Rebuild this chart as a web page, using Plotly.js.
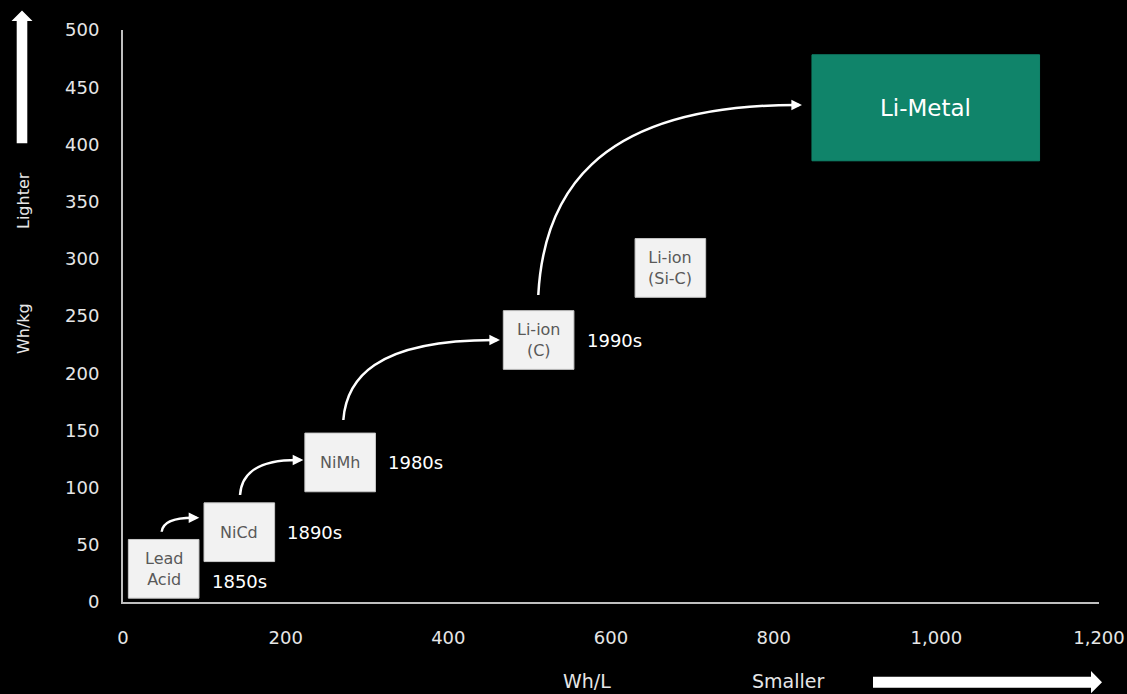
<!DOCTYPE html>
<html>
<head>
<meta charset="utf-8">
<script src="https://cdn.plot.ly/plotly-3.0.1.min.js"></script>
<style>
  html, body { margin: 0; padding: 0; background: #000; }
  #chart { width: 1127px; height: 694px; }
</style>
</head>
<body>
<div id="chart"></div>
<script>
// ---- Data ----
const techNames = ['Lead<br>Acid', 'NiCd', 'NiMh', 'Li-ion<br>(C)', 'Li-ion<br>(Si-C)', 'Li-Metal'];
const whPerL    = [50, 143, 267, 511, 673, 987];     // volumetric energy density (box centre)
const whPerKg   = [29, 61, 122, 229, 292, 432];      // gravimetric energy density (box centre)
const decades   = ['1850s', '1890s', '1980s', '1990s', '', ''];

// progression arrows (start point -> arrow tip), in Wh/L and Wh/kg
const arrowFromL  = [47.6, 143.9, 270.9, 510.6];
const arrowFromKg = [61.4, 93.5, 159.1, 268.4];
const arrowToL    = [93.8, 221.7, 463.5, 834.8];
const arrowToKg   = [73.7, 124.1, 229.0, 434.4];

const xTicks = [0, 200, 400, 600, 800, 1000, 1200];
const yTicks = [0, 50, 100, 150, 200, 250, 300, 350, 400, 450, 500];

// ---- Styling / layout constants ----
const FONT = 'DejaVu Sans';
const W = 1127, H = 694;
const M = {l: 123, r: 28, t: 30, b: 92};
const PW = W - M.l - M.r, PH = H - M.t - M.b;
const fx = p => (p - M.l) / PW;       // pixel -> paper x
const fy = p => (H - M.b - p) / PH;   // pixel -> paper y
const XPX = PW / 1200;                // px per Wh/L unit

const shapes = [];
const annotations = [];

// technology boxes
techNames.forEach((name, i) => {
  const isMetal = name === 'Li-Metal';
  const hw = isMetal ? 113.8 : 35.3, hh = isMetal ? 53 : 29.35;
  shapes.push({
    type: 'rect', xref: 'x', yref: 'y',
    xsizemode: 'pixel', ysizemode: 'pixel',
    xanchor: whPerL[i], yanchor: whPerKg[i],
    x0: -hw, x1: hw, y0: -hh, y1: hh,
    fillcolor: isMetal ? '#10846a' : '#f2f2f2',
    line: {color: isMetal ? '#10846a' : '#c8c8c8', width: 1},
    layer: 'above'
  });
  annotations.push({
    x: whPerL[i], y: whPerKg[i], xref: 'x', yref: 'y',
    text: name, showarrow: false,
    font: {family: FONT, size: isMetal ? 23 : 16, color: isMetal ? '#ffffff' : '#595959'}
  });
  if (decades[i]) {
    annotations.push({
      x: whPerL[i], y: whPerKg[i], xref: 'x', yref: 'y',
      text: decades[i], showarrow: false,
      xanchor: 'left', xshift: 46, yshift: i === 0 ? -13 : 0,
      font: {family: FONT, size: 18, color: '#ffffff'}
    });
  }
});

// curved progression arrows
arrowFromL.forEach((x0, i) => {
  const y0 = arrowFromKg[i];
  const tipX = arrowToL[i], y1 = arrowToKg[i];
  const x1 = tipX - 6 / XPX;
  const dx = x1 - x0, dy = y1 - y0;
  const c1x = x0 + 0.02 * dx, c1y = y0 + 0.5 * dy;
  const c2x = x0 + 0.2 * dx,  c2y = y1;
  shapes.push({
    type: 'path', xref: 'x', yref: 'y',
    path: `M ${x0},${y0} C ${c1x},${c1y} ${c2x},${c2y} ${x1},${y1}`,
    line: {color: '#ffffff', width: 2.5}
  });
  annotations.push({
    x: tipX, y: y1, xref: 'x', yref: 'y',
    ax: tipX - 12 / XPX, ay: y1, axref: 'x', ayref: 'y',
    text: '', showarrow: true, arrowhead: 2, arrowsize: 0.85, arrowwidth: 2.5,
    arrowcolor: '#ffffff', standoff: 0
  });
});

// axis direction arrows (decoration, in paper coords)
const upArrow = [[16.7,143.3],[16.7,21],[11.5,21],[22,10.5],[32.5,21],[27.3,21],[27.3,143.3]];
const rightArrow = [[873,676.7],[1091,676.7],[1091,671],[1102,682.2],[1091,693.3],[1091,687.7],[873,687.7]];
[upArrow, rightArrow].forEach(pts => {
  shapes.push({
    type: 'path', xref: 'paper', yref: 'paper',
    path: 'M ' + pts.map(p => fx(p[0]) + ',' + fy(p[1])).join(' L ') + ' Z',
    fillcolor: '#ffffff', line: {color: '#ffffff', width: 0}
  });
});

// axis captions
const capFontY = {family: FONT, size: 16, color: '#e6e6e6'};
const capFontX = {family: FONT, size: 19, color: '#e6e6e6'};
const cap = (px, py, text, font, angle) => ({
  xref: 'paper', yref: 'paper', x: fx(px), y: fy(py),
  xanchor: 'center', yanchor: 'middle',
  text: text, textangle: angle || 0, showarrow: false, font: font
});
annotations.push(
  cap(23, 329, 'Wh/kg', capFontY, -90),
  cap(23, 201, 'Lighter', capFontY, -90),
  cap(587, 681, 'Wh/L', capFontX),
  cap(788, 681, 'Smaller', capFontX)
);

const trace = {
  type: 'scatter', mode: 'markers',
  x: whPerL, y: whPerKg,
  text: techNames.map(t => t.replace('<br>', ' ')),
  hoverinfo: 'text',
  marker: {size: 1, opacity: 0},
  showlegend: false
};

const axisCommon = {
  showgrid: false, zeroline: false,
  showline: true, linecolor: '#bfbfbf', linewidth: 2,
  ticks: '', tickfont: {family: FONT, size: 18, color: '#e6e6e6'},
  fixedrange: true
};

const layout = {
  width: W, height: H,
  margin: M,
  paper_bgcolor: '#000000', plot_bgcolor: '#000000',
  showlegend: false,
  xaxis: Object.assign({}, axisCommon, {
    range: [0, 1200], tickvals: xTicks, tickformat: ',d', ticklabelstandoff: 18
  }),
  yaxis: Object.assign({}, axisCommon, {
    range: [0, 500], tickvals: yTicks, ticklabelstandoff: 18
  }),
  shapes: shapes,
  annotations: annotations
};

Plotly.newPlot('chart', [trace], layout, {displayModeBar: false, staticPlot: true});
</script>
</body>
</html>
